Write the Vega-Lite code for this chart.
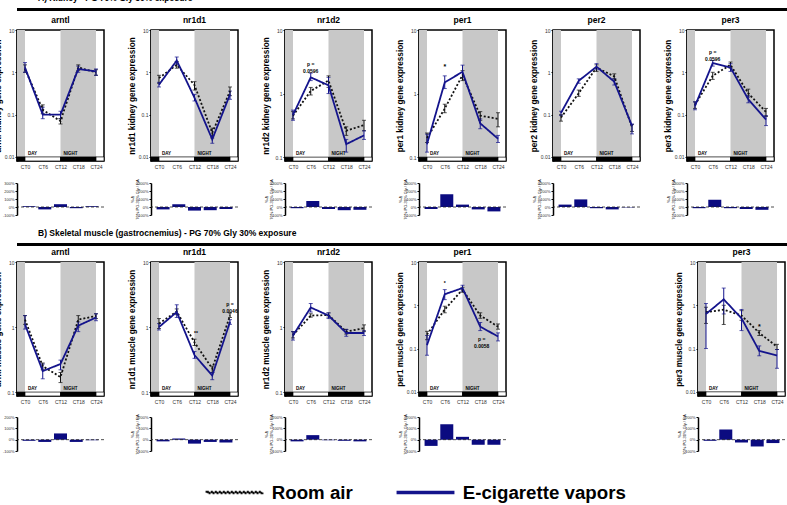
{
"$schema":"https://vega.github.io/schema/vega-lite/v6.json",
"padding":{"left":-8,"top":-6,"right":0,"bottom":0},
"background":"white",
"datasets":{
"shade":[{"s":-2.7,"e":0},{"s":12,"e":24}],
"dn":[{"s":-2.7,"e":0,"ph":"night"},{"s":0,"e":12,"ph":"day"},{"s":12,"e":24,"ph":"night"},{"s":24,"e":26.7,"ph":"day"}],
"dnlab":[{"ct":1,"lab":"DAY"},{"ct":13,"lab":"NIGHT"}],
"groups":[{"grp":"Room air"},{"grp":"E-cigarette vapors"}],
"ann":[
{"t":"A","g":"nr1d2","ct":6,"y":2.9,"lab":"p =\n0.0596"},
{"t":"A","g":"per1","ct":6,"y":2.6,"lab":"*"},
{"t":"A","g":"per3","ct":6,"y":3.1,"lab":"p =\n0.0596"},
{"t":"B","g":"nr1d1","ct":12.5,"y":0.8,"lab":"**"},
{"t":"B","g":"nr1d1","ct":24,"y":2.25,"lab":"p =\n0.0046"},
{"t":"B","g":"per1","ct":6,"y":3.3,"lab":"*"},
{"t":"B","g":"per1","ct":18.5,"y":0.17,"lab":"p =\n0.0058"},
{"t":"B","g":"per3","ct":18,"y":0.31,"lab":"*"}
],
"bars":[
{"t":"A","g":"arntl","ct":0,"pct":10},{"t":"A","g":"arntl","ct":6,"pct":-30},{"t":"A","g":"arntl","ct":12,"pct":35},{"t":"A","g":"arntl","ct":18,"pct":-15},{"t":"A","g":"arntl","ct":24,"pct":10},
{"t":"A","g":"nr1d1","ct":0,"pct":-30},{"t":"A","g":"nr1d1","ct":6,"pct":35},{"t":"A","g":"nr1d1","ct":12,"pct":-45},{"t":"A","g":"nr1d1","ct":18,"pct":-40},{"t":"A","g":"nr1d1","ct":24,"pct":-25},
{"t":"A","g":"nr1d2","ct":0,"pct":-15},{"t":"A","g":"nr1d2","ct":6,"pct":75},{"t":"A","g":"nr1d2","ct":12,"pct":-25},{"t":"A","g":"nr1d2","ct":18,"pct":-40},{"t":"A","g":"nr1d2","ct":24,"pct":-35},
{"t":"A","g":"per1","ct":0,"pct":-25},{"t":"A","g":"per1","ct":6,"pct":160},{"t":"A","g":"per1","ct":12,"pct":30},{"t":"A","g":"per1","ct":18,"pct":-30},{"t":"A","g":"per1","ct":24,"pct":-55},
{"t":"A","g":"per2","ct":0,"pct":30},{"t":"A","g":"per2","ct":6,"pct":95},{"t":"A","g":"per2","ct":12,"pct":-15},{"t":"A","g":"per2","ct":18,"pct":-30},{"t":"A","g":"per2","ct":24,"pct":-5},
{"t":"A","g":"per3","ct":0,"pct":-15},{"t":"A","g":"per3","ct":6,"pct":90},{"t":"A","g":"per3","ct":12,"pct":-15},{"t":"A","g":"per3","ct":18,"pct":-25},{"t":"A","g":"per3","ct":24,"pct":-35},
{"t":"B","g":"arntl","ct":0,"pct":-10},{"t":"B","g":"arntl","ct":6,"pct":-20},{"t":"B","g":"arntl","ct":12,"pct":55},{"t":"B","g":"arntl","ct":18,"pct":-20},{"t":"B","g":"arntl","ct":24,"pct":-5},
{"t":"B","g":"nr1d1","ct":0,"pct":-15},{"t":"B","g":"nr1d1","ct":6,"pct":10},{"t":"B","g":"nr1d1","ct":12,"pct":-35},{"t":"B","g":"nr1d1","ct":18,"pct":-20},{"t":"B","g":"nr1d1","ct":24,"pct":-25},
{"t":"B","g":"nr1d2","ct":0,"pct":-15},{"t":"B","g":"nr1d2","ct":6,"pct":40},{"t":"B","g":"nr1d2","ct":12,"pct":-5},{"t":"B","g":"nr1d2","ct":18,"pct":-10},{"t":"B","g":"nr1d2","ct":24,"pct":-15},
{"t":"B","g":"per1","ct":0,"pct":-55},{"t":"B","g":"per1","ct":6,"pct":135},{"t":"B","g":"per1","ct":12,"pct":25},{"t":"B","g":"per1","ct":18,"pct":-45},{"t":"B","g":"per1","ct":24,"pct":-45},
{"t":"B","g":"per3","ct":0,"pct":-10},{"t":"B","g":"per3","ct":6,"pct":90},{"t":"B","g":"per3","ct":12,"pct":-25},{"t":"B","g":"per3","ct":18,"pct":-60},{"t":"B","g":"per3","ct":24,"pct":-30}
],
"lines":[
{"t":"A","g":"arntl","grp":"Room air","ct":0,"m":1.2,"lo":1.0,"hi":1.5},{"t":"A","g":"arntl","grp":"Room air","ct":6,"m":0.13,"lo":0.105,"hi":0.17},{"t":"A","g":"arntl","grp":"Room air","ct":12,"m":0.07,"lo":0.06,"hi":0.08},{"t":"A","g":"arntl","grp":"Room air","ct":18,"m":1.3,"lo":1.1,"hi":1.5},{"t":"A","g":"arntl","grp":"Room air","ct":24,"m":1.0,"lo":0.85,"hi":1.15},
{"t":"A","g":"arntl","grp":"E-cigarette vapors","ct":0,"m":1.3,"lo":1.0,"hi":1.7},{"t":"A","g":"arntl","grp":"E-cigarette vapors","ct":6,"m":0.1,"lo":0.08,"hi":0.15},{"t":"A","g":"arntl","grp":"E-cigarette vapors","ct":12,"m":0.1,"lo":0.08,"hi":0.12},{"t":"A","g":"arntl","grp":"E-cigarette vapors","ct":18,"m":1.2,"lo":1.0,"hi":1.4},{"t":"A","g":"arntl","grp":"E-cigarette vapors","ct":24,"m":1.05,"lo":0.85,"hi":1.2},
{"t":"A","g":"nr1d1","grp":"Room air","ct":0,"m":0.73,"lo":0.55,"hi":0.85},{"t":"A","g":"nr1d1","grp":"Room air","ct":6,"m":1.5,"lo":1.25,"hi":1.8},{"t":"A","g":"nr1d1","grp":"Room air","ct":12,"m":0.5,"lo":0.38,"hi":0.6},{"t":"A","g":"nr1d1","grp":"Room air","ct":18,"m":0.037,"lo":0.028,"hi":0.048},{"t":"A","g":"nr1d1","grp":"Room air","ct":24,"m":0.36,"lo":0.28,"hi":0.45},
{"t":"A","g":"nr1d1","grp":"E-cigarette vapors","ct":0,"m":0.51,"lo":0.45,"hi":0.58},{"t":"A","g":"nr1d1","grp":"E-cigarette vapors","ct":6,"m":1.9,"lo":1.5,"hi":2.3},{"t":"A","g":"nr1d1","grp":"E-cigarette vapors","ct":12,"m":0.25,"lo":0.21,"hi":0.3},{"t":"A","g":"nr1d1","grp":"E-cigarette vapors","ct":18,"m":0.026,"lo":0.021,"hi":0.032},{"t":"A","g":"nr1d1","grp":"E-cigarette vapors","ct":24,"m":0.3,"lo":0.23,"hi":0.36},
{"t":"A","g":"nr1d2","grp":"Room air","ct":0,"m":0.45,"lo":0.4,"hi":0.52},{"t":"A","g":"nr1d2","grp":"Room air","ct":6,"m":1.1,"lo":0.95,"hi":1.25},{"t":"A","g":"nr1d2","grp":"Room air","ct":12,"m":1.6,"lo":1.25,"hi":1.9},{"t":"A","g":"nr1d2","grp":"Room air","ct":18,"m":0.26,"lo":0.22,"hi":0.3},{"t":"A","g":"nr1d2","grp":"Room air","ct":24,"m":0.32,"lo":0.26,"hi":0.38},
{"t":"A","g":"nr1d2","grp":"E-cigarette vapors","ct":0,"m":0.46,"lo":0.38,"hi":0.55},{"t":"A","g":"nr1d2","grp":"E-cigarette vapors","ct":6,"m":1.8,"lo":1.6,"hi":2.1},{"t":"A","g":"nr1d2","grp":"E-cigarette vapors","ct":12,"m":1.35,"lo":1.0,"hi":1.8},{"t":"A","g":"nr1d2","grp":"E-cigarette vapors","ct":18,"m":0.16,"lo":0.12,"hi":0.19},{"t":"A","g":"nr1d2","grp":"E-cigarette vapors","ct":24,"m":0.22,"lo":0.19,"hi":0.26},
{"t":"A","g":"per1","grp":"Room air","ct":0,"m":0.2,"lo":0.17,"hi":0.24},{"t":"A","g":"per1","grp":"Room air","ct":6,"m":0.58,"lo":0.5,"hi":0.68},{"t":"A","g":"per1","grp":"Room air","ct":12,"m":1.95,"lo":1.6,"hi":2.3},{"t":"A","g":"per1","grp":"Room air","ct":18,"m":0.45,"lo":0.38,"hi":0.52},{"t":"A","g":"per1","grp":"Room air","ct":24,"m":0.4,"lo":0.3,"hi":0.5},
{"t":"A","g":"per1","grp":"E-cigarette vapors","ct":0,"m":0.16,"lo":0.12,"hi":0.23},{"t":"A","g":"per1","grp":"E-cigarette vapors","ct":6,"m":1.5,"lo":1.2,"hi":1.9},{"t":"A","g":"per1","grp":"E-cigarette vapors","ct":12,"m":2.2,"lo":1.8,"hi":2.8},{"t":"A","g":"per1","grp":"E-cigarette vapors","ct":18,"m":0.34,"lo":0.28,"hi":0.4},{"t":"A","g":"per1","grp":"E-cigarette vapors","ct":24,"m":0.195,"lo":0.17,"hi":0.22},
{"t":"A","g":"per2","grp":"Room air","ct":0,"m":0.085,"lo":0.07,"hi":0.1},{"t":"A","g":"per2","grp":"Room air","ct":6,"m":0.32,"lo":0.27,"hi":0.38},{"t":"A","g":"per2","grp":"Room air","ct":12,"m":1.3,"lo":1.05,"hi":1.5},{"t":"A","g":"per2","grp":"Room air","ct":18,"m":0.8,"lo":0.7,"hi":0.92},{"t":"A","g":"per2","grp":"Room air","ct":24,"m":0.05,"lo":0.04,"hi":0.058},
{"t":"A","g":"per2","grp":"E-cigarette vapors","ct":0,"m":0.11,"lo":0.095,"hi":0.12},{"t":"A","g":"per2","grp":"E-cigarette vapors","ct":6,"m":0.63,"lo":0.55,"hi":0.7},{"t":"A","g":"per2","grp":"E-cigarette vapors","ct":12,"m":1.36,"lo":1.15,"hi":1.6},{"t":"A","g":"per2","grp":"E-cigarette vapors","ct":18,"m":0.6,"lo":0.5,"hi":0.7},{"t":"A","g":"per2","grp":"E-cigarette vapors","ct":24,"m":0.054,"lo":0.035,"hi":0.06},
{"t":"A","g":"per3","grp":"Room air","ct":0,"m":0.17,"lo":0.14,"hi":0.2},{"t":"A","g":"per3","grp":"Room air","ct":6,"m":0.83,"lo":0.68,"hi":1.0},{"t":"A","g":"per3","grp":"Room air","ct":12,"m":1.5,"lo":1.25,"hi":1.75},{"t":"A","g":"per3","grp":"Room air","ct":18,"m":0.32,"lo":0.26,"hi":0.4},{"t":"A","g":"per3","grp":"Room air","ct":24,"m":0.115,"lo":0.09,"hi":0.14},
{"t":"A","g":"per3","grp":"E-cigarette vapors","ct":0,"m":0.16,"lo":0.13,"hi":0.2},{"t":"A","g":"per3","grp":"E-cigarette vapors","ct":6,"m":1.66,"lo":1.4,"hi":1.9},{"t":"A","g":"per3","grp":"E-cigarette vapors","ct":12,"m":1.3,"lo":1.05,"hi":1.6},{"t":"A","g":"per3","grp":"E-cigarette vapors","ct":18,"m":0.23,"lo":0.19,"hi":0.28},{"t":"A","g":"per3","grp":"E-cigarette vapors","ct":24,"m":0.076,"lo":0.055,"hi":0.095},
{"t":"B","g":"arntl","grp":"Room air","ct":0,"m":1.3,"lo":1.1,"hi":1.5},{"t":"B","g":"arntl","grp":"Room air","ct":6,"m":0.25,"lo":0.22,"hi":0.28},{"t":"B","g":"arntl","grp":"Room air","ct":12,"m":0.17,"lo":0.14,"hi":0.2},{"t":"B","g":"arntl","grp":"Room air","ct":18,"m":1.3,"lo":1.0,"hi":1.5},{"t":"B","g":"arntl","grp":"Room air","ct":24,"m":1.48,"lo":1.35,"hi":1.6},
{"t":"B","g":"arntl","grp":"E-cigarette vapors","ct":0,"m":1.1,"lo":0.93,"hi":1.5},{"t":"B","g":"arntl","grp":"E-cigarette vapors","ct":6,"m":0.21,"lo":0.16,"hi":0.27},{"t":"B","g":"arntl","grp":"E-cigarette vapors","ct":12,"m":0.27,"lo":0.22,"hi":0.31},{"t":"B","g":"arntl","grp":"E-cigarette vapors","ct":18,"m":1.05,"lo":0.85,"hi":1.2},{"t":"B","g":"arntl","grp":"E-cigarette vapors","ct":24,"m":1.4,"lo":1.25,"hi":1.6},
{"t":"B","g":"nr1d1","grp":"Room air","ct":0,"m":1.13,"lo":0.95,"hi":1.35},{"t":"B","g":"nr1d1","grp":"Room air","ct":6,"m":1.73,"lo":1.55,"hi":1.9},{"t":"B","g":"nr1d1","grp":"Room air","ct":12,"m":0.58,"lo":0.52,"hi":0.65},{"t":"B","g":"nr1d1","grp":"Room air","ct":18,"m":0.23,"lo":0.2,"hi":0.25},{"t":"B","g":"nr1d1","grp":"Room air","ct":24,"m":1.5,"lo":1.4,"hi":1.65},
{"t":"B","g":"nr1d1","grp":"E-cigarette vapors","ct":0,"m":1.0,"lo":0.9,"hi":1.13},{"t":"B","g":"nr1d1","grp":"E-cigarette vapors","ct":6,"m":1.7,"lo":1.4,"hi":2.2},{"t":"B","g":"nr1d1","grp":"E-cigarette vapors","ct":12,"m":0.37,"lo":0.33,"hi":0.42},{"t":"B","g":"nr1d1","grp":"E-cigarette vapors","ct":18,"m":0.18,"lo":0.155,"hi":0.2},{"t":"B","g":"nr1d1","grp":"E-cigarette vapors","ct":24,"m":1.2,"lo":1.1,"hi":1.3},
{"t":"B","g":"nr1d2","grp":"Room air","ct":0,"m":0.75,"lo":0.68,"hi":0.85},{"t":"B","g":"nr1d2","grp":"Room air","ct":6,"m":1.5,"lo":1.42,"hi":1.6},{"t":"B","g":"nr1d2","grp":"Room air","ct":12,"m":1.53,"lo":1.42,"hi":1.65},{"t":"B","g":"nr1d2","grp":"Room air","ct":18,"m":0.85,"lo":0.78,"hi":0.92},{"t":"B","g":"nr1d2","grp":"Room air","ct":24,"m":0.96,"lo":0.85,"hi":1.08},
{"t":"B","g":"nr1d2","grp":"E-cigarette vapors","ct":0,"m":0.74,"lo":0.63,"hi":0.85},{"t":"B","g":"nr1d2","grp":"E-cigarette vapors","ct":6,"m":2.0,"lo":1.7,"hi":2.3},{"t":"B","g":"nr1d2","grp":"E-cigarette vapors","ct":12,"m":1.5,"lo":1.35,"hi":1.65},{"t":"B","g":"nr1d2","grp":"E-cigarette vapors","ct":18,"m":0.81,"lo":0.72,"hi":0.92},{"t":"B","g":"nr1d2","grp":"E-cigarette vapors","ct":24,"m":0.81,"lo":0.74,"hi":0.88},
{"t":"B","g":"per1","grp":"Room air","ct":0,"m":0.21,"lo":0.16,"hi":0.25},{"t":"B","g":"per1","grp":"Room air","ct":6,"m":0.8,"lo":0.67,"hi":0.95},{"t":"B","g":"per1","grp":"Room air","ct":12,"m":2.3,"lo":2.0,"hi":2.6},{"t":"B","g":"per1","grp":"Room air","ct":18,"m":0.58,"lo":0.5,"hi":0.67},{"t":"B","g":"per1","grp":"Room air","ct":24,"m":0.32,"lo":0.28,"hi":0.37},
{"t":"B","g":"per1","grp":"E-cigarette vapors","ct":0,"m":0.12,"lo":0.07,"hi":0.2},{"t":"B","g":"per1","grp":"E-cigarette vapors","ct":6,"m":1.8,"lo":1.35,"hi":2.3},{"t":"B","g":"per1","grp":"E-cigarette vapors","ct":12,"m":2.5,"lo":2.1,"hi":2.9},{"t":"B","g":"per1","grp":"E-cigarette vapors","ct":18,"m":0.32,"lo":0.26,"hi":0.4},{"t":"B","g":"per1","grp":"E-cigarette vapors","ct":24,"m":0.19,"lo":0.15,"hi":0.23},
{"t":"B","g":"per3","grp":"Room air","ct":0,"m":0.69,"lo":0.38,"hi":0.9},{"t":"B","g":"per3","grp":"Room air","ct":6,"m":0.79,"lo":0.36,"hi":1.0},{"t":"B","g":"per3","grp":"Room air","ct":12,"m":0.58,"lo":0.45,"hi":0.75},{"t":"B","g":"per3","grp":"Room air","ct":18,"m":0.23,"lo":0.2,"hi":0.26},{"t":"B","g":"per3","grp":"Room air","ct":24,"m":0.11,"lo":0.095,"hi":0.125},
{"t":"B","g":"per3","grp":"E-cigarette vapors","ct":0,"m":0.63,"lo":0.1,"hi":1.1},{"t":"B","g":"per3","grp":"E-cigarette vapors","ct":6,"m":1.37,"lo":0.63,"hi":2.5},{"t":"B","g":"per3","grp":"E-cigarette vapors","ct":12,"m":0.5,"lo":0.26,"hi":0.8},{"t":"B","g":"per3","grp":"E-cigarette vapors","ct":18,"m":0.088,"lo":0.068,"hi":0.115},{"t":"B","g":"per3","grp":"E-cigarette vapors","ct":24,"m":0.069,"lo":0.035,"hi":0.095}
]
},
"spacing":28,
"vconcat":[
{"spacing":9,"vconcat":[
{"spacing":-1,"vconcat":[
 {"width":788,"height":3,"view":{"stroke":null,"fill":"black"},"title":{"text":"A)  Kidney - PG 70% Gly 30% exposure","anchor":"start","frame":"group","fontSize":8.5,"offset":1,"dx":21},"data":{"values":[{}]},"mark":{"type":"text"},"encoding":{"text":{"value":""}}},
 {"spacing":20,"hconcat":[
  {"bounds":"flush","spacing":22,"vconcat":[
   {"title":"arntl","width":87,"height":131,"layer":[
    {"data":{"name":"shade"},"mark":{"type":"rect","color":"#c8c8c8"},"encoding":{"x":{"field":"s","type":"quantitative","scale":{"domain":[-2.7,26.7],"nice":false,"zero":false},"axis":{"values":[0,6,12,18,24],"tickCount":5,"labelExpr":"'CT'+datum.value","title":null,"ticks":false,"domain":false,"labelFontSize":5,"labelPadding":3,"labelOverlap":false,"labelFlush":false}},"x2":{"field":"e"}}},
    {"data":{"name":"dn"},"mark":{"type":"rect","stroke":"black","strokeWidth":0.7},"encoding":{"x":{"field":"s","type":"quantitative"},"x2":{"field":"e"},"y":{"datum":0.008,"type":"quantitative","scale":{"type":"log","domain":[0.008,10],"nice":false},"axis":{"values":[0.01,0.1,1,10],"tickCount":4,"format":"~g","title":"arntl kidney gene expression","titleFontSize":8.2,"titleFontWeight":"bold","labelFontSize":5,"domainWidth":2,"titlePadding":2,"minExtent":13,"maxExtent":13}},"y2":{"datum":0.01},"fill":{"field":"ph","type":"nominal","scale":{"domain":["day","night"],"range":["white","black"]},"legend":null}}},
    {"data":{"name":"dnlab"},"mark":{"type":"text","fontSize":4.5,"fontWeight":"bold","align":"left","baseline":"bottom"},"encoding":{"x":{"field":"ct","type":"quantitative"},"y":{"datum":0.0105},"text":{"field":"lab"}}},
    {"data":{"name":"lines"},"transform":[{"filter":"datum.t=='A'&&datum.g=='arntl'"}],"mark":{"type":"errorbar","ticks":{"size":4},"thickness":1},"encoding":{"x":{"field":"ct","type":"quantitative"},"y":{"field":"lo","type":"quantitative","title":"arntl kidney gene expression"},"y2":{"field":"hi"},"color":{"field":"grp","type":"nominal","legend":null,"scale":{"domain":["Room air","E-cigarette vapors"],"range":["#111111","#14148c"]}}}},
    {"data":{"name":"lines"},"transform":[{"filter":"datum.t=='A'&&datum.g=='arntl'"}],"mark":{"type":"line","strokeWidth":1.8},"encoding":{"x":{"field":"ct","type":"quantitative"},"y":{"field":"m","type":"quantitative"},"color":{"field":"grp","type":"nominal","legend":null,"scale":{"domain":["Room air","E-cigarette vapors"],"range":["#111111","#14148c"]}},"strokeDash":{"field":"grp","type":"nominal","legend":null,"scale":{"domain":["Room air","E-cigarette vapors"],"range":[[2,2],[1,0]]}}}}
   ]},
   {"width":87,"height":32,"view":{"stroke":null},"layer":[
    {"data":{"name":"bars"},"transform":[{"filter":"datum.t=='A'&&datum.g=='arntl'"}],"mark":{"type":"bar","width":13,"color":"#0b0b80","orient":"vertical"},"encoding":{"x":{"field":"ct","type":"quantitative","scale":{"domain":[-2.7,26.7],"nice":false,"zero":false},"axis":null},"y":{"field":"pct","type":"quantitative","scale":{"domain":[-100,300],"nice":false},"axis":{"values":[-100,0,100,200,300],"tickCount":5,"labelExpr":"datum.value+'%'","labelFontSize":4,"domainWidth":1.5,"title":null}}}},
    {"data":{"values":[{}]},"mark":{"type":"rule","strokeDash":[3,2],"color":"#222","strokeWidth":0.8},"encoding":{"y":{"datum":0}}}
   ]}
  ]},
  {"bounds":"flush","spacing":22,"vconcat":[
   {"title":"nr1d1","width":87,"height":131,"layer":[
    {"data":{"name":"shade"},"mark":{"type":"rect","color":"#c8c8c8"},"encoding":{"x":{"field":"s","type":"quantitative","scale":{"domain":[-2.7,26.7],"nice":false,"zero":false},"axis":{"values":[0,6,12,18,24],"tickCount":5,"labelExpr":"'CT'+datum.value","title":null,"ticks":false,"domain":false,"labelFontSize":5,"labelPadding":3,"labelOverlap":false,"labelFlush":false}},"x2":{"field":"e"}}},
    {"data":{"name":"dn"},"mark":{"type":"rect","stroke":"black","strokeWidth":0.7},"encoding":{"x":{"field":"s","type":"quantitative"},"x2":{"field":"e"},"y":{"datum":0.008,"type":"quantitative","scale":{"type":"log","domain":[0.008,10],"nice":false},"axis":{"values":[0.01,0.1,1,10],"tickCount":4,"format":"~g","title":"nr1d1 kidney gene expression","titleFontSize":8.2,"titleFontWeight":"bold","labelFontSize":5,"domainWidth":2,"titlePadding":2,"minExtent":13,"maxExtent":13}},"y2":{"datum":0.01},"fill":{"field":"ph","type":"nominal","scale":{"domain":["day","night"],"range":["white","black"]},"legend":null}}},
    {"data":{"name":"dnlab"},"mark":{"type":"text","fontSize":4.5,"fontWeight":"bold","align":"left","baseline":"bottom"},"encoding":{"x":{"field":"ct","type":"quantitative"},"y":{"datum":0.0105},"text":{"field":"lab"}}},
    {"data":{"name":"lines"},"transform":[{"filter":"datum.t=='A'&&datum.g=='nr1d1'"}],"mark":{"type":"errorbar","ticks":{"size":4},"thickness":1},"encoding":{"x":{"field":"ct","type":"quantitative"},"y":{"field":"lo","type":"quantitative","title":"nr1d1 kidney gene expression"},"y2":{"field":"hi"},"color":{"field":"grp","type":"nominal","legend":null,"scale":{"domain":["Room air","E-cigarette vapors"],"range":["#111111","#14148c"]}}}},
    {"data":{"name":"lines"},"transform":[{"filter":"datum.t=='A'&&datum.g=='nr1d1'"}],"mark":{"type":"line","strokeWidth":1.8},"encoding":{"x":{"field":"ct","type":"quantitative"},"y":{"field":"m","type":"quantitative"},"color":{"field":"grp","type":"nominal","legend":null,"scale":{"domain":["Room air","E-cigarette vapors"],"range":["#111111","#14148c"]}},"strokeDash":{"field":"grp","type":"nominal","legend":null,"scale":{"domain":["Room air","E-cigarette vapors"],"range":[[2,2],[1,0]]}}}}
   ]},
   {"width":87,"height":32,"view":{"stroke":null},"layer":[
    {"data":{"name":"bars"},"transform":[{"filter":"datum.t=='A'&&datum.g=='nr1d1'"}],"mark":{"type":"bar","width":13,"color":"#0b0b80","orient":"vertical"},"encoding":{"x":{"field":"ct","type":"quantitative","scale":{"domain":[-2.7,26.7],"nice":false,"zero":false},"axis":null},"y":{"field":"pct","type":"quantitative","scale":{"domain":[-100,300],"nice":false},"axis":{"values":[-100,0,100,200,300],"tickCount":5,"labelExpr":"datum.value+'%'","labelFontSize":4,"domainWidth":1.5,"title":["% Δ","70% PG-30% Gly / RA"],"titleFontSize":4,"titleFontWeight":"normal","titlePadding":1,"titleLineHeight":5,"minExtent":11,"maxExtent":11}}}},
    {"data":{"values":[{}]},"mark":{"type":"rule","strokeDash":[3,2],"color":"#222","strokeWidth":0.8},"encoding":{"y":{"datum":0}}}
   ]}
  ]},
  {"bounds":"flush","spacing":22,"vconcat":[
   {"title":"nr1d2","width":87,"height":131,"layer":[
    {"data":{"name":"shade"},"mark":{"type":"rect","color":"#c8c8c8"},"encoding":{"x":{"field":"s","type":"quantitative","scale":{"domain":[-2.7,26.7],"nice":false,"zero":false},"axis":{"values":[0,6,12,18,24],"tickCount":5,"labelExpr":"'CT'+datum.value","title":null,"ticks":false,"domain":false,"labelFontSize":5,"labelPadding":3,"labelOverlap":false,"labelFlush":false}},"x2":{"field":"e"}}},
    {"data":{"name":"dn"},"mark":{"type":"rect","stroke":"black","strokeWidth":0.7},"encoding":{"x":{"field":"s","type":"quantitative"},"x2":{"field":"e"},"y":{"datum":0.087,"type":"quantitative","scale":{"type":"log","domain":[0.087,10],"nice":false},"axis":{"values":[0.1,1,10],"tickCount":4,"format":"~g","title":"nr1d2 kidney gene expression","titleFontSize":8.2,"titleFontWeight":"bold","labelFontSize":5,"domainWidth":2,"titlePadding":2,"minExtent":13,"maxExtent":13}},"y2":{"datum":0.1},"fill":{"field":"ph","type":"nominal","scale":{"domain":["day","night"],"range":["white","black"]},"legend":null}}},
    {"data":{"name":"dnlab"},"mark":{"type":"text","fontSize":4.5,"fontWeight":"bold","align":"left","baseline":"bottom"},"encoding":{"x":{"field":"ct","type":"quantitative"},"y":{"datum":0.104},"text":{"field":"lab"}}},
    {"data":{"name":"lines"},"transform":[{"filter":"datum.t=='A'&&datum.g=='nr1d2'"}],"mark":{"type":"errorbar","ticks":{"size":4},"thickness":1},"encoding":{"x":{"field":"ct","type":"quantitative"},"y":{"field":"lo","type":"quantitative","title":"nr1d2 kidney gene expression"},"y2":{"field":"hi"},"color":{"field":"grp","type":"nominal","legend":null,"scale":{"domain":["Room air","E-cigarette vapors"],"range":["#111111","#14148c"]}}}},
    {"data":{"name":"lines"},"transform":[{"filter":"datum.t=='A'&&datum.g=='nr1d2'"}],"mark":{"type":"line","strokeWidth":1.8},"encoding":{"x":{"field":"ct","type":"quantitative"},"y":{"field":"m","type":"quantitative"},"color":{"field":"grp","type":"nominal","legend":null,"scale":{"domain":["Room air","E-cigarette vapors"],"range":["#111111","#14148c"]}},"strokeDash":{"field":"grp","type":"nominal","legend":null,"scale":{"domain":["Room air","E-cigarette vapors"],"range":[[2,2],[1,0]]}}}},
    {"data":{"name":"ann"},"transform":[{"filter":"datum.t=='A'&&datum.g=='nr1d2'"}],"mark":{"type":"text","fontSize":5,"fontWeight":"bold","lineBreak":"\n","baseline":"middle"},"encoding":{"x":{"field":"ct","type":"quantitative"},"y":{"field":"y","type":"quantitative"},"text":{"field":"lab"}}}
   ]},
   {"width":87,"height":32,"view":{"stroke":null},"layer":[
    {"data":{"name":"bars"},"transform":[{"filter":"datum.t=='A'&&datum.g=='nr1d2'"}],"mark":{"type":"bar","width":13,"color":"#0b0b80","orient":"vertical"},"encoding":{"x":{"field":"ct","type":"quantitative","scale":{"domain":[-2.7,26.7],"nice":false,"zero":false},"axis":null},"y":{"field":"pct","type":"quantitative","scale":{"domain":[-100,300],"nice":false},"axis":{"values":[-100,0,100,200,300],"tickCount":5,"labelExpr":"datum.value+'%'","labelFontSize":4,"domainWidth":1.5,"title":["% Δ","70% PG-30% Gly / RA"],"titleFontSize":4,"titleFontWeight":"normal","titlePadding":1,"titleLineHeight":5,"minExtent":11,"maxExtent":11}}}},
    {"data":{"values":[{}]},"mark":{"type":"rule","strokeDash":[3,2],"color":"#222","strokeWidth":0.8},"encoding":{"y":{"datum":0}}}
   ]}
  ]},
  {"bounds":"flush","spacing":22,"vconcat":[
   {"title":"per1","width":87,"height":131,"layer":[
    {"data":{"name":"shade"},"mark":{"type":"rect","color":"#c8c8c8"},"encoding":{"x":{"field":"s","type":"quantitative","scale":{"domain":[-2.7,26.7],"nice":false,"zero":false},"axis":{"values":[0,6,12,18,24],"tickCount":5,"labelExpr":"'CT'+datum.value","title":null,"ticks":false,"domain":false,"labelFontSize":5,"labelPadding":3,"labelOverlap":false,"labelFlush":false}},"x2":{"field":"e"}}},
    {"data":{"name":"dn"},"mark":{"type":"rect","stroke":"black","strokeWidth":0.7},"encoding":{"x":{"field":"s","type":"quantitative"},"x2":{"field":"e"},"y":{"datum":0.087,"type":"quantitative","scale":{"type":"log","domain":[0.087,10],"nice":false},"axis":{"values":[0.1,1,10],"tickCount":4,"format":"~g","title":"per1 kidney gene expression","titleFontSize":8.2,"titleFontWeight":"bold","labelFontSize":5,"domainWidth":2,"titlePadding":2,"minExtent":13,"maxExtent":13}},"y2":{"datum":0.1},"fill":{"field":"ph","type":"nominal","scale":{"domain":["day","night"],"range":["white","black"]},"legend":null}}},
    {"data":{"name":"dnlab"},"mark":{"type":"text","fontSize":4.5,"fontWeight":"bold","align":"left","baseline":"bottom"},"encoding":{"x":{"field":"ct","type":"quantitative"},"y":{"datum":0.104},"text":{"field":"lab"}}},
    {"data":{"name":"lines"},"transform":[{"filter":"datum.t=='A'&&datum.g=='per1'"}],"mark":{"type":"errorbar","ticks":{"size":4},"thickness":1},"encoding":{"x":{"field":"ct","type":"quantitative"},"y":{"field":"lo","type":"quantitative","title":"per1 kidney gene expression"},"y2":{"field":"hi"},"color":{"field":"grp","type":"nominal","legend":null,"scale":{"domain":["Room air","E-cigarette vapors"],"range":["#111111","#14148c"]}}}},
    {"data":{"name":"lines"},"transform":[{"filter":"datum.t=='A'&&datum.g=='per1'"}],"mark":{"type":"line","strokeWidth":1.8},"encoding":{"x":{"field":"ct","type":"quantitative"},"y":{"field":"m","type":"quantitative"},"color":{"field":"grp","type":"nominal","legend":null,"scale":{"domain":["Room air","E-cigarette vapors"],"range":["#111111","#14148c"]}},"strokeDash":{"field":"grp","type":"nominal","legend":null,"scale":{"domain":["Room air","E-cigarette vapors"],"range":[[2,2],[1,0]]}}}},
    {"data":{"name":"ann"},"transform":[{"filter":"datum.t=='A'&&datum.g=='per1'"}],"mark":{"type":"text","fontSize":7,"fontWeight":"bold","lineBreak":"\n","baseline":"middle"},"encoding":{"x":{"field":"ct","type":"quantitative"},"y":{"field":"y","type":"quantitative"},"text":{"field":"lab"}}}
   ]},
   {"width":87,"height":32,"view":{"stroke":null},"layer":[
    {"data":{"name":"bars"},"transform":[{"filter":"datum.t=='A'&&datum.g=='per1'"}],"mark":{"type":"bar","width":13,"color":"#0b0b80","orient":"vertical"},"encoding":{"x":{"field":"ct","type":"quantitative","scale":{"domain":[-2.7,26.7],"nice":false,"zero":false},"axis":null},"y":{"field":"pct","type":"quantitative","scale":{"domain":[-100,300],"nice":false},"axis":{"values":[-100,0,100,200,300],"tickCount":5,"labelExpr":"datum.value+'%'","labelFontSize":4,"domainWidth":1.5,"title":["% Δ","70% PG-30% Gly / RA"],"titleFontSize":4,"titleFontWeight":"normal","titlePadding":1,"titleLineHeight":5,"minExtent":11,"maxExtent":11}}}},
    {"data":{"values":[{}]},"mark":{"type":"rule","strokeDash":[3,2],"color":"#222","strokeWidth":0.8},"encoding":{"y":{"datum":0}}}
   ]}
  ]},
  {"bounds":"flush","spacing":22,"vconcat":[
   {"title":"per2","width":87,"height":131,"layer":[
    {"data":{"name":"shade"},"mark":{"type":"rect","color":"#c8c8c8"},"encoding":{"x":{"field":"s","type":"quantitative","scale":{"domain":[-2.7,26.7],"nice":false,"zero":false},"axis":{"values":[0,6,12,18,24],"tickCount":5,"labelExpr":"'CT'+datum.value","title":null,"ticks":false,"domain":false,"labelFontSize":5,"labelPadding":3,"labelOverlap":false,"labelFlush":false}},"x2":{"field":"e"}}},
    {"data":{"name":"dn"},"mark":{"type":"rect","stroke":"black","strokeWidth":0.7},"encoding":{"x":{"field":"s","type":"quantitative"},"x2":{"field":"e"},"y":{"datum":0.008,"type":"quantitative","scale":{"type":"log","domain":[0.008,10],"nice":false},"axis":{"values":[0.01,0.1,1,10],"tickCount":4,"format":"~g","title":"per2 kidney gene expression","titleFontSize":8.2,"titleFontWeight":"bold","labelFontSize":5,"domainWidth":2,"titlePadding":2,"minExtent":13,"maxExtent":13}},"y2":{"datum":0.01},"fill":{"field":"ph","type":"nominal","scale":{"domain":["day","night"],"range":["white","black"]},"legend":null}}},
    {"data":{"name":"dnlab"},"mark":{"type":"text","fontSize":4.5,"fontWeight":"bold","align":"left","baseline":"bottom"},"encoding":{"x":{"field":"ct","type":"quantitative"},"y":{"datum":0.0105},"text":{"field":"lab"}}},
    {"data":{"name":"lines"},"transform":[{"filter":"datum.t=='A'&&datum.g=='per2'"}],"mark":{"type":"errorbar","ticks":{"size":4},"thickness":1},"encoding":{"x":{"field":"ct","type":"quantitative"},"y":{"field":"lo","type":"quantitative","title":"per2 kidney gene expression"},"y2":{"field":"hi"},"color":{"field":"grp","type":"nominal","legend":null,"scale":{"domain":["Room air","E-cigarette vapors"],"range":["#111111","#14148c"]}}}},
    {"data":{"name":"lines"},"transform":[{"filter":"datum.t=='A'&&datum.g=='per2'"}],"mark":{"type":"line","strokeWidth":1.8},"encoding":{"x":{"field":"ct","type":"quantitative"},"y":{"field":"m","type":"quantitative"},"color":{"field":"grp","type":"nominal","legend":null,"scale":{"domain":["Room air","E-cigarette vapors"],"range":["#111111","#14148c"]}},"strokeDash":{"field":"grp","type":"nominal","legend":null,"scale":{"domain":["Room air","E-cigarette vapors"],"range":[[2,2],[1,0]]}}}}
   ]},
   {"width":87,"height":32,"view":{"stroke":null},"layer":[
    {"data":{"name":"bars"},"transform":[{"filter":"datum.t=='A'&&datum.g=='per2'"}],"mark":{"type":"bar","width":13,"color":"#0b0b80","orient":"vertical"},"encoding":{"x":{"field":"ct","type":"quantitative","scale":{"domain":[-2.7,26.7],"nice":false,"zero":false},"axis":null},"y":{"field":"pct","type":"quantitative","scale":{"domain":[-100,300],"nice":false},"axis":{"values":[-100,0,100,200,300],"tickCount":5,"labelExpr":"datum.value+'%'","labelFontSize":4,"domainWidth":1.5,"title":["% Δ","70% PG-30% Gly / RA"],"titleFontSize":4,"titleFontWeight":"normal","titlePadding":1,"titleLineHeight":5,"minExtent":11,"maxExtent":11}}}},
    {"data":{"values":[{}]},"mark":{"type":"rule","strokeDash":[3,2],"color":"#222","strokeWidth":0.8},"encoding":{"y":{"datum":0}}}
   ]}
  ]},
  {"bounds":"flush","spacing":22,"vconcat":[
   {"title":"per3","width":87,"height":131,"layer":[
    {"data":{"name":"shade"},"mark":{"type":"rect","color":"#c8c8c8"},"encoding":{"x":{"field":"s","type":"quantitative","scale":{"domain":[-2.7,26.7],"nice":false,"zero":false},"axis":{"values":[0,6,12,18,24],"tickCount":5,"labelExpr":"'CT'+datum.value","title":null,"ticks":false,"domain":false,"labelFontSize":5,"labelPadding":3,"labelOverlap":false,"labelFlush":false}},"x2":{"field":"e"}}},
    {"data":{"name":"dn"},"mark":{"type":"rect","stroke":"black","strokeWidth":0.7},"encoding":{"x":{"field":"s","type":"quantitative"},"x2":{"field":"e"},"y":{"datum":0.008,"type":"quantitative","scale":{"type":"log","domain":[0.008,10],"nice":false},"axis":{"values":[0.01,0.1,1,10],"tickCount":4,"format":"~g","title":"per3 kidney gene expression","titleFontSize":8.2,"titleFontWeight":"bold","labelFontSize":5,"domainWidth":2,"titlePadding":2,"minExtent":13,"maxExtent":13}},"y2":{"datum":0.01},"fill":{"field":"ph","type":"nominal","scale":{"domain":["day","night"],"range":["white","black"]},"legend":null}}},
    {"data":{"name":"dnlab"},"mark":{"type":"text","fontSize":4.5,"fontWeight":"bold","align":"left","baseline":"bottom"},"encoding":{"x":{"field":"ct","type":"quantitative"},"y":{"datum":0.0105},"text":{"field":"lab"}}},
    {"data":{"name":"lines"},"transform":[{"filter":"datum.t=='A'&&datum.g=='per3'"}],"mark":{"type":"errorbar","ticks":{"size":4},"thickness":1},"encoding":{"x":{"field":"ct","type":"quantitative"},"y":{"field":"lo","type":"quantitative","title":"per3 kidney gene expression"},"y2":{"field":"hi"},"color":{"field":"grp","type":"nominal","legend":null,"scale":{"domain":["Room air","E-cigarette vapors"],"range":["#111111","#14148c"]}}}},
    {"data":{"name":"lines"},"transform":[{"filter":"datum.t=='A'&&datum.g=='per3'"}],"mark":{"type":"line","strokeWidth":1.8},"encoding":{"x":{"field":"ct","type":"quantitative"},"y":{"field":"m","type":"quantitative"},"color":{"field":"grp","type":"nominal","legend":null,"scale":{"domain":["Room air","E-cigarette vapors"],"range":["#111111","#14148c"]}},"strokeDash":{"field":"grp","type":"nominal","legend":null,"scale":{"domain":["Room air","E-cigarette vapors"],"range":[[2,2],[1,0]]}}}},
    {"data":{"name":"ann"},"transform":[{"filter":"datum.t=='A'&&datum.g=='per3'"}],"mark":{"type":"text","fontSize":5,"fontWeight":"bold","lineBreak":"\n","baseline":"middle"},"encoding":{"x":{"field":"ct","type":"quantitative"},"y":{"field":"y","type":"quantitative"},"text":{"field":"lab"}}}
   ]},
   {"width":87,"height":32,"view":{"stroke":null},"layer":[
    {"data":{"name":"bars"},"transform":[{"filter":"datum.t=='A'&&datum.g=='per3'"}],"mark":{"type":"bar","width":13,"color":"#0b0b80","orient":"vertical"},"encoding":{"x":{"field":"ct","type":"quantitative","scale":{"domain":[-2.7,26.7],"nice":false,"zero":false},"axis":null},"y":{"field":"pct","type":"quantitative","scale":{"domain":[-100,300],"nice":false},"axis":{"values":[-100,0,100,200,300],"tickCount":5,"labelExpr":"datum.value+'%'","labelFontSize":4,"domainWidth":1.5,"title":["% Δ","70% PG-30% Gly / RA"],"titleFontSize":4,"titleFontWeight":"normal","titlePadding":1,"titleLineHeight":5,"minExtent":11,"maxExtent":11}}}},
    {"data":{"values":[{}]},"mark":{"type":"rule","strokeDash":[3,2],"color":"#222","strokeWidth":0.8},"encoding":{"y":{"datum":0}}}
   ]}
  ]}
 ]}
]},
{"spacing":-4,"vconcat":[
 {"width":788,"height":3,"view":{"stroke":null,"fill":"black"},"title":{"text":"B)  Skeletal muscle (gastrocnemius) - PG 70% Gly 30% exposure","anchor":"start","frame":"group","fontSize":8.5,"offset":1,"dx":21},"data":{"values":[{}]},"mark":{"type":"text"},"encoding":{"text":{"value":""}}},
 {"spacing":165,"hconcat":[
  {"spacing":20,"hconcat":[
   {"bounds":"flush","spacing":21,"vconcat":[
    {"title":"arntl","width":87,"height":134,"layer":[
     {"data":{"name":"shade"},"mark":{"type":"rect","color":"#c8c8c8"},"encoding":{"x":{"field":"s","type":"quantitative","scale":{"domain":[-2.7,26.7],"nice":false,"zero":false},"axis":{"values":[0,6,12,18,24],"tickCount":5,"labelExpr":"'CT'+datum.value","title":null,"ticks":false,"domain":false,"labelFontSize":5,"labelPadding":3,"labelOverlap":false,"labelFlush":false}},"x2":{"field":"e"}}},
     {"data":{"name":"dn"},"mark":{"type":"rect","stroke":"black","strokeWidth":0.7},"encoding":{"x":{"field":"s","type":"quantitative"},"x2":{"field":"e"},"y":{"datum":0.087,"type":"quantitative","scale":{"type":"log","domain":[0.087,10],"nice":false},"axis":{"values":[0.1,1,10],"tickCount":4,"format":"~g","title":"arntl muscle gene expression","titleFontSize":8.2,"titleFontWeight":"bold","labelFontSize":5,"domainWidth":2,"titlePadding":2,"minExtent":13,"maxExtent":13}},"y2":{"datum":0.1},"fill":{"field":"ph","type":"nominal","scale":{"domain":["day","night"],"range":["white","black"]},"legend":null}}},
     {"data":{"name":"dnlab"},"mark":{"type":"text","fontSize":4.5,"fontWeight":"bold","align":"left","baseline":"bottom"},"encoding":{"x":{"field":"ct","type":"quantitative"},"y":{"datum":0.104},"text":{"field":"lab"}}},
     {"data":{"name":"lines"},"transform":[{"filter":"datum.t=='B'&&datum.g=='arntl'"}],"mark":{"type":"errorbar","ticks":{"size":4},"thickness":1},"encoding":{"x":{"field":"ct","type":"quantitative"},"y":{"field":"lo","type":"quantitative","title":"arntl muscle gene expression"},"y2":{"field":"hi"},"color":{"field":"grp","type":"nominal","legend":null,"scale":{"domain":["Room air","E-cigarette vapors"],"range":["#111111","#14148c"]}}}},
     {"data":{"name":"lines"},"transform":[{"filter":"datum.t=='B'&&datum.g=='arntl'"}],"mark":{"type":"line","strokeWidth":1.8},"encoding":{"x":{"field":"ct","type":"quantitative"},"y":{"field":"m","type":"quantitative"},"color":{"field":"grp","type":"nominal","legend":null,"scale":{"domain":["Room air","E-cigarette vapors"],"range":["#111111","#14148c"]}},"strokeDash":{"field":"grp","type":"nominal","legend":null,"scale":{"domain":["Room air","E-cigarette vapors"],"range":[[2,2],[1,0]]}}}}
    ]},
    {"width":87,"height":34,"view":{"stroke":null},"layer":[
     {"data":{"name":"bars"},"transform":[{"filter":"datum.t=='B'&&datum.g=='arntl'"}],"mark":{"type":"bar","width":13,"color":"#0b0b80","orient":"vertical"},"encoding":{"x":{"field":"ct","type":"quantitative","scale":{"domain":[-2.7,26.7],"nice":false,"zero":false},"axis":null},"y":{"field":"pct","type":"quantitative","scale":{"domain":[-100,200],"nice":false},"axis":{"values":[-100,0,100,200],"tickCount":4,"labelExpr":"datum.value+'%'","labelFontSize":4,"domainWidth":1.5,"title":null}}}},
     {"data":{"values":[{}]},"mark":{"type":"rule","strokeDash":[3,2],"color":"#222","strokeWidth":0.8},"encoding":{"y":{"datum":0}}}
    ]}
   ]},
   {"bounds":"flush","spacing":21,"vconcat":[
    {"title":"nr1d1","width":87,"height":134,"layer":[
     {"data":{"name":"shade"},"mark":{"type":"rect","color":"#c8c8c8"},"encoding":{"x":{"field":"s","type":"quantitative","scale":{"domain":[-2.7,26.7],"nice":false,"zero":false},"axis":{"values":[0,6,12,18,24],"tickCount":5,"labelExpr":"'CT'+datum.value","title":null,"ticks":false,"domain":false,"labelFontSize":5,"labelPadding":3,"labelOverlap":false,"labelFlush":false}},"x2":{"field":"e"}}},
     {"data":{"name":"dn"},"mark":{"type":"rect","stroke":"black","strokeWidth":0.7},"encoding":{"x":{"field":"s","type":"quantitative"},"x2":{"field":"e"},"y":{"datum":0.087,"type":"quantitative","scale":{"type":"log","domain":[0.087,10],"nice":false},"axis":{"values":[0.1,1,10],"tickCount":4,"format":"~g","title":"nr1d1 muscle gene expression","titleFontSize":8.2,"titleFontWeight":"bold","labelFontSize":5,"domainWidth":2,"titlePadding":2,"minExtent":13,"maxExtent":13}},"y2":{"datum":0.1},"fill":{"field":"ph","type":"nominal","scale":{"domain":["day","night"],"range":["white","black"]},"legend":null}}},
     {"data":{"name":"dnlab"},"mark":{"type":"text","fontSize":4.5,"fontWeight":"bold","align":"left","baseline":"bottom"},"encoding":{"x":{"field":"ct","type":"quantitative"},"y":{"datum":0.104},"text":{"field":"lab"}}},
     {"data":{"name":"lines"},"transform":[{"filter":"datum.t=='B'&&datum.g=='nr1d1'"}],"mark":{"type":"errorbar","ticks":{"size":4},"thickness":1},"encoding":{"x":{"field":"ct","type":"quantitative"},"y":{"field":"lo","type":"quantitative","title":"nr1d1 muscle gene expression"},"y2":{"field":"hi"},"color":{"field":"grp","type":"nominal","legend":null,"scale":{"domain":["Room air","E-cigarette vapors"],"range":["#111111","#14148c"]}}}},
     {"data":{"name":"lines"},"transform":[{"filter":"datum.t=='B'&&datum.g=='nr1d1'"}],"mark":{"type":"line","strokeWidth":1.8},"encoding":{"x":{"field":"ct","type":"quantitative"},"y":{"field":"m","type":"quantitative"},"color":{"field":"grp","type":"nominal","legend":null,"scale":{"domain":["Room air","E-cigarette vapors"],"range":["#111111","#14148c"]}},"strokeDash":{"field":"grp","type":"nominal","legend":null,"scale":{"domain":["Room air","E-cigarette vapors"],"range":[[2,2],[1,0]]}}}},
     {"data":{"name":"ann"},"transform":[{"filter":"datum.t=='B'&&datum.g=='nr1d1'"}],"mark":{"type":"text","fontSize":5,"fontWeight":"bold","lineBreak":"\n","baseline":"middle"},"encoding":{"x":{"field":"ct","type":"quantitative"},"y":{"field":"y","type":"quantitative"},"text":{"field":"lab"}}}
    ]},
    {"width":87,"height":34,"view":{"stroke":null},"layer":[
     {"data":{"name":"bars"},"transform":[{"filter":"datum.t=='B'&&datum.g=='nr1d1'"}],"mark":{"type":"bar","width":13,"color":"#0b0b80","orient":"vertical"},"encoding":{"x":{"field":"ct","type":"quantitative","scale":{"domain":[-2.7,26.7],"nice":false,"zero":false},"axis":null},"y":{"field":"pct","type":"quantitative","scale":{"domain":[-100,200],"nice":false},"axis":{"values":[-100,0,100,200],"tickCount":4,"labelExpr":"datum.value+'%'","labelFontSize":4,"domainWidth":1.5,"title":["% Δ","70% PG-30% Gly / RA"],"titleFontSize":4,"titleFontWeight":"normal","titlePadding":1,"titleLineHeight":5,"minExtent":11,"maxExtent":11}}}},
     {"data":{"values":[{}]},"mark":{"type":"rule","strokeDash":[3,2],"color":"#222","strokeWidth":0.8},"encoding":{"y":{"datum":0}}}
    ]}
   ]},
   {"bounds":"flush","spacing":21,"vconcat":[
    {"title":"nr1d2","width":87,"height":134,"layer":[
     {"data":{"name":"shade"},"mark":{"type":"rect","color":"#c8c8c8"},"encoding":{"x":{"field":"s","type":"quantitative","scale":{"domain":[-2.7,26.7],"nice":false,"zero":false},"axis":{"values":[0,6,12,18,24],"tickCount":5,"labelExpr":"'CT'+datum.value","title":null,"ticks":false,"domain":false,"labelFontSize":5,"labelPadding":3,"labelOverlap":false,"labelFlush":false}},"x2":{"field":"e"}}},
     {"data":{"name":"dn"},"mark":{"type":"rect","stroke":"black","strokeWidth":0.7},"encoding":{"x":{"field":"s","type":"quantitative"},"x2":{"field":"e"},"y":{"datum":0.087,"type":"quantitative","scale":{"type":"log","domain":[0.087,10],"nice":false},"axis":{"values":[0.1,1,10],"tickCount":4,"format":"~g","title":"nr1d2 muscle gene expression","titleFontSize":8.2,"titleFontWeight":"bold","labelFontSize":5,"domainWidth":2,"titlePadding":2,"minExtent":13,"maxExtent":13}},"y2":{"datum":0.1},"fill":{"field":"ph","type":"nominal","scale":{"domain":["day","night"],"range":["white","black"]},"legend":null}}},
     {"data":{"name":"dnlab"},"mark":{"type":"text","fontSize":4.5,"fontWeight":"bold","align":"left","baseline":"bottom"},"encoding":{"x":{"field":"ct","type":"quantitative"},"y":{"datum":0.104},"text":{"field":"lab"}}},
     {"data":{"name":"lines"},"transform":[{"filter":"datum.t=='B'&&datum.g=='nr1d2'"}],"mark":{"type":"errorbar","ticks":{"size":4},"thickness":1},"encoding":{"x":{"field":"ct","type":"quantitative"},"y":{"field":"lo","type":"quantitative","title":"nr1d2 muscle gene expression"},"y2":{"field":"hi"},"color":{"field":"grp","type":"nominal","legend":null,"scale":{"domain":["Room air","E-cigarette vapors"],"range":["#111111","#14148c"]}}}},
     {"data":{"name":"lines"},"transform":[{"filter":"datum.t=='B'&&datum.g=='nr1d2'"}],"mark":{"type":"line","strokeWidth":1.8},"encoding":{"x":{"field":"ct","type":"quantitative"},"y":{"field":"m","type":"quantitative"},"color":{"field":"grp","type":"nominal","legend":null,"scale":{"domain":["Room air","E-cigarette vapors"],"range":["#111111","#14148c"]}},"strokeDash":{"field":"grp","type":"nominal","legend":null,"scale":{"domain":["Room air","E-cigarette vapors"],"range":[[2,2],[1,0]]}}}}
    ]},
    {"width":87,"height":34,"view":{"stroke":null},"layer":[
     {"data":{"name":"bars"},"transform":[{"filter":"datum.t=='B'&&datum.g=='nr1d2'"}],"mark":{"type":"bar","width":13,"color":"#0b0b80","orient":"vertical"},"encoding":{"x":{"field":"ct","type":"quantitative","scale":{"domain":[-2.7,26.7],"nice":false,"zero":false},"axis":null},"y":{"field":"pct","type":"quantitative","scale":{"domain":[-100,200],"nice":false},"axis":{"values":[-100,0,100,200],"tickCount":4,"labelExpr":"datum.value+'%'","labelFontSize":4,"domainWidth":1.5,"title":["% Δ","70% PG-30% Gly / RA"],"titleFontSize":4,"titleFontWeight":"normal","titlePadding":1,"titleLineHeight":5,"minExtent":11,"maxExtent":11}}}},
     {"data":{"values":[{}]},"mark":{"type":"rule","strokeDash":[3,2],"color":"#222","strokeWidth":0.8},"encoding":{"y":{"datum":0}}}
    ]}
   ]},
   {"bounds":"flush","spacing":21,"vconcat":[
    {"title":"per1","width":87,"height":134,"layer":[
     {"data":{"name":"shade"},"mark":{"type":"rect","color":"#c8c8c8"},"encoding":{"x":{"field":"s","type":"quantitative","scale":{"domain":[-2.7,26.7],"nice":false,"zero":false},"axis":{"values":[0,6,12,18,24],"tickCount":5,"labelExpr":"'CT'+datum.value","title":null,"ticks":false,"domain":false,"labelFontSize":5,"labelPadding":3,"labelOverlap":false,"labelFlush":false}},"x2":{"field":"e"}}},
     {"data":{"name":"dn"},"mark":{"type":"rect","stroke":"black","strokeWidth":0.7},"encoding":{"x":{"field":"s","type":"quantitative"},"x2":{"field":"e"},"y":{"datum":0.008,"type":"quantitative","scale":{"type":"log","domain":[0.008,10],"nice":false},"axis":{"values":[0.01,0.1,1,10],"tickCount":4,"format":"~g","title":"per1 muscle gene expression","titleFontSize":8.2,"titleFontWeight":"bold","labelFontSize":5,"domainWidth":2,"titlePadding":2,"minExtent":13,"maxExtent":13}},"y2":{"datum":0.01},"fill":{"field":"ph","type":"nominal","scale":{"domain":["day","night"],"range":["white","black"]},"legend":null}}},
     {"data":{"name":"dnlab"},"mark":{"type":"text","fontSize":4.5,"fontWeight":"bold","align":"left","baseline":"bottom"},"encoding":{"x":{"field":"ct","type":"quantitative"},"y":{"datum":0.0105},"text":{"field":"lab"}}},
     {"data":{"name":"lines"},"transform":[{"filter":"datum.t=='B'&&datum.g=='per1'"}],"mark":{"type":"errorbar","ticks":{"size":4},"thickness":1},"encoding":{"x":{"field":"ct","type":"quantitative"},"y":{"field":"lo","type":"quantitative","title":"per1 muscle gene expression"},"y2":{"field":"hi"},"color":{"field":"grp","type":"nominal","legend":null,"scale":{"domain":["Room air","E-cigarette vapors"],"range":["#111111","#14148c"]}}}},
     {"data":{"name":"lines"},"transform":[{"filter":"datum.t=='B'&&datum.g=='per1'"}],"mark":{"type":"line","strokeWidth":1.8},"encoding":{"x":{"field":"ct","type":"quantitative"},"y":{"field":"m","type":"quantitative"},"color":{"field":"grp","type":"nominal","legend":null,"scale":{"domain":["Room air","E-cigarette vapors"],"range":["#111111","#14148c"]}},"strokeDash":{"field":"grp","type":"nominal","legend":null,"scale":{"domain":["Room air","E-cigarette vapors"],"range":[[2,2],[1,0]]}}}},
     {"data":{"name":"ann"},"transform":[{"filter":"datum.t=='B'&&datum.g=='per1'"}],"mark":{"type":"text","fontSize":5,"fontWeight":"bold","lineBreak":"\n","baseline":"middle"},"encoding":{"x":{"field":"ct","type":"quantitative"},"y":{"field":"y","type":"quantitative"},"text":{"field":"lab"}}}
    ]},
    {"width":87,"height":34,"view":{"stroke":null},"layer":[
     {"data":{"name":"bars"},"transform":[{"filter":"datum.t=='B'&&datum.g=='per1'"}],"mark":{"type":"bar","width":13,"color":"#0b0b80","orient":"vertical"},"encoding":{"x":{"field":"ct","type":"quantitative","scale":{"domain":[-2.7,26.7],"nice":false,"zero":false},"axis":null},"y":{"field":"pct","type":"quantitative","scale":{"domain":[-100,200],"nice":false},"axis":{"values":[-100,0,100,200],"tickCount":4,"labelExpr":"datum.value+'%'","labelFontSize":4,"domainWidth":1.5,"title":["% Δ","70% PG-30% Gly / RA"],"titleFontSize":4,"titleFontWeight":"normal","titlePadding":1,"titleLineHeight":5,"minExtent":11,"maxExtent":11}}}},
     {"data":{"values":[{}]},"mark":{"type":"rule","strokeDash":[3,2],"color":"#222","strokeWidth":0.8},"encoding":{"y":{"datum":0}}}
    ]}
   ]}
  ]},
  {"bounds":"flush","spacing":21,"vconcat":[
   {"title":"per3","width":87,"height":134,"layer":[
    {"data":{"name":"shade"},"mark":{"type":"rect","color":"#c8c8c8"},"encoding":{"x":{"field":"s","type":"quantitative","scale":{"domain":[-2.7,26.7],"nice":false,"zero":false},"axis":{"values":[0,6,12,18,24],"tickCount":5,"labelExpr":"'CT'+datum.value","title":null,"ticks":false,"domain":false,"labelFontSize":5,"labelPadding":3,"labelOverlap":false,"labelFlush":false}},"x2":{"field":"e"}}},
    {"data":{"name":"dn"},"mark":{"type":"rect","stroke":"black","strokeWidth":0.7},"encoding":{"x":{"field":"s","type":"quantitative"},"x2":{"field":"e"},"y":{"datum":0.008,"type":"quantitative","scale":{"type":"log","domain":[0.008,10],"nice":false},"axis":{"values":[0.01,0.1,1,10],"tickCount":4,"format":"~g","title":"per3 muscle gene expression","titleFontSize":8.2,"titleFontWeight":"bold","labelFontSize":5,"domainWidth":2,"titlePadding":2,"minExtent":13,"maxExtent":13}},"y2":{"datum":0.01},"fill":{"field":"ph","type":"nominal","scale":{"domain":["day","night"],"range":["white","black"]},"legend":null}}},
    {"data":{"name":"dnlab"},"mark":{"type":"text","fontSize":4.5,"fontWeight":"bold","align":"left","baseline":"bottom"},"encoding":{"x":{"field":"ct","type":"quantitative"},"y":{"datum":0.0105},"text":{"field":"lab"}}},
    {"data":{"name":"lines"},"transform":[{"filter":"datum.t=='B'&&datum.g=='per3'"}],"mark":{"type":"errorbar","ticks":{"size":4},"thickness":1},"encoding":{"x":{"field":"ct","type":"quantitative"},"y":{"field":"lo","type":"quantitative","title":"per3 muscle gene expression"},"y2":{"field":"hi"},"color":{"field":"grp","type":"nominal","legend":null,"scale":{"domain":["Room air","E-cigarette vapors"],"range":["#111111","#14148c"]}}}},
    {"data":{"name":"lines"},"transform":[{"filter":"datum.t=='B'&&datum.g=='per3'"}],"mark":{"type":"line","strokeWidth":1.8},"encoding":{"x":{"field":"ct","type":"quantitative"},"y":{"field":"m","type":"quantitative"},"color":{"field":"grp","type":"nominal","legend":null,"scale":{"domain":["Room air","E-cigarette vapors"],"range":["#111111","#14148c"]}},"strokeDash":{"field":"grp","type":"nominal","legend":null,"scale":{"domain":["Room air","E-cigarette vapors"],"range":[[2,2],[1,0]]}}}},
    {"data":{"name":"ann"},"transform":[{"filter":"datum.t=='B'&&datum.g=='per3'"}],"mark":{"type":"text","fontSize":7,"fontWeight":"bold","lineBreak":"\n","baseline":"middle"},"encoding":{"x":{"field":"ct","type":"quantitative"},"y":{"field":"y","type":"quantitative"},"text":{"field":"lab"}}}
   ]},
   {"width":87,"height":34,"view":{"stroke":null},"layer":[
    {"data":{"name":"bars"},"transform":[{"filter":"datum.t=='B'&&datum.g=='per3'"}],"mark":{"type":"bar","width":13,"color":"#0b0b80","orient":"vertical"},"encoding":{"x":{"field":"ct","type":"quantitative","scale":{"domain":[-2.7,26.7],"nice":false,"zero":false},"axis":null},"y":{"field":"pct","type":"quantitative","scale":{"domain":[-100,200],"nice":false},"axis":{"values":[-100,0,100,200],"tickCount":4,"labelExpr":"datum.value+'%'","labelFontSize":4,"domainWidth":1.5,"title":["% Δ","70% PG-30% Gly / RA"],"titleFontSize":4,"titleFontWeight":"normal","titlePadding":1,"titleLineHeight":5,"minExtent":11,"maxExtent":11}}}},
    {"data":{"values":[{}]},"mark":{"type":"rule","strokeDash":[3,2],"color":"#222","strokeWidth":0.8},"encoding":{"y":{"datum":0}}}
   ]}
  ]}
 ]}
]}
]},
{"width":504,"height":1,"view":{"stroke":null},"data":{"name":"groups"},
 "encoding":{"x":{"field":"grp","type":"nominal","sort":null,"scale":{"domain":["Room air","E-cigarette vapors"],"paddingInner":0,"paddingOuter":0.3194,"align":1},"axis":null}},
 "layer":[
  {"mark":{"type":"bar","strokeWidth":2.5,"width":{"band":0.29}},"encoding":{
    "color":{"field":"grp","type":"nominal","legend":null,"scale":{"domain":["Room air","E-cigarette vapors"],"range":["#111111","#14148c"]}},
    "fillOpacity":{"field":"grp","type":"nominal","legend":null,"scale":{"domain":["Room air","E-cigarette vapors"],"range":[0,1]}},
    "stroke":{"field":"grp","type":"nominal","legend":null,"scale":{"domain":["Room air","E-cigarette vapors"],"range":["#111111","#14148c"]}},
    "strokeDash":{"field":"grp","type":"nominal","legend":null,"scale":{"domain":["Room air","E-cigarette vapors"],"range":[[2,2],[1,0]]}}}},
  {"mark":{"type":"text","align":"left","baseline":"middle","fontSize":18.7,"fontWeight":"bold","color":"black"},"encoding":{"x":{"field":"grp","type":"nominal","bandPosition":0.695},"text":{"field":"grp"}}}
 ]}
],
"config":{
"font":"Liberation Sans",
"view":{"stroke":"black","strokeWidth":1.5},
"title":{"fontSize":8.5,"fontWeight":"bold","offset":4,"color":"black"},
"axis":{"grid":false,"domainColor":"black","tickColor":"black","labelColor":"#333","titleColor":"black","tickSize":2,"labelPadding":1}
}
}
